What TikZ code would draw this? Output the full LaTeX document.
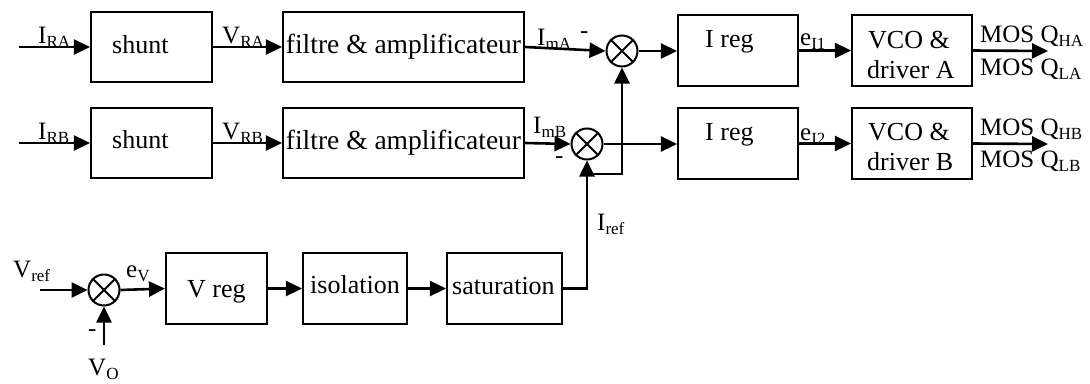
\documentclass[tikz,border=0pt]{standalone}
\usepackage{fontspec}
\setmainfont{Liberation Serif}
\usetikzlibrary{arrows.meta}
\newcommand\sbs[1]{\raisebox{-4.5pt}{\fontsize{17}{17}\selectfont #1}}
\begin{document}
\begin{tikzpicture}[x=1pt,y=-1pt,
  box/.style={draw,line width=2.1pt,inner sep=0pt},
  sum/.style={draw,circle,line width=2pt,minimum size=31pt,inner sep=0pt},
  conn/.style={line width=2.6pt,-{Triangle[length=16pt,width=15pt]}},
  lab/.style={anchor=base west,inner sep=0pt,font=\fontsize{25}{25}\selectfont},
  btext/.style={anchor=base west,inner sep=0pt,font=\fontsize{26}{30}\selectfont}]
\useasboundingbox (0,0) rectangle (1090,383);
% boxes
\node[box,minimum width=121pt,minimum height=70pt] (shA) at (151.5,47) {};
\node[box,minimum width=121pt,minimum height=70pt] (shB) at (151.5,143) {};
\node[box,minimum width=241pt,minimum height=70pt,font=\fontsize{27.5}{30}\selectfont] (fiA) at (403.5,47) {filtre \& amplificateur};
\node[box,minimum width=241pt,minimum height=70pt,font=\fontsize{27.5}{30}\selectfont] (fiB) at (403.5,143) {filtre \& amplificateur};
\node[box,minimum width=120pt,minimum height=71pt] (irA) at (738,50.5) {};
\node[box,minimum width=120pt,minimum height=71pt] (irB) at (738,143.5) {};
\node[box,minimum width=120pt,minimum height=71pt] (vcA) at (912,50.5) {};
\node[box,minimum width=120pt,minimum height=71pt] (vcB) at (912,143.5) {};
\node[box,minimum width=101pt,minimum height=71pt] (vr) at (216.5,288.5) {};
\node[box,minimum width=104pt,minimum height=71pt] (iso) at (355,288.5) {};
\node[box,minimum width=115pt,minimum height=71pt] (sat) at (504.5,288.5) {};
% box texts
\node[btext] (tshA) at (112,53) {shunt};
\node[btext] (tshB) at (112,148) {shunt};
\node[btext] (tirA) at (705,47) {I reg};
\node[btext] (tirB) at (705,140) {I reg};
\node[btext] (tvcA1) at (868,48) {VCO \&};
\node[btext] (tvcA2) at (867,78) {driver A};
\node[btext] (tvcB1) at (868,140) {VCO \&};
\node[btext] (tvcB2) at (867,170) {driver B};
\node[btext] (tvr) at (187,297) {V reg};
\node[btext] (tiso) at (310,293) {isolation};
\node[btext] (tsat) at (452,294) {saturation};
% summing junctions
\node[sum] (sA) at (622,51) {};
\node[sum] (sB) at (587,144) {};
\node[sum] (sV) at (104,290) {};
\foreach \s in {sA,sB,sV}{
  \draw[line width=1.8pt] (\s.45) -- (\s.225) (\s.135) -- (\s.315);}
% free ends
\coordinate (inA) at (19,47);
\coordinate (inB) at (19,143);
\coordinate (outA) at (1048,51);
\coordinate (outB) at (1048,144);
\coordinate (vin) at (40,290);
\coordinate (vo) at (104,345);
\coordinate (jn) at (587,174);
% connectors
\draw[conn] (inA) -- (shA.west);
\draw[conn] (shA.east) -- (fiA.west);
\draw[conn] (fiA.east) -- (sA.west);
\draw[conn] (sA.east) -- (sA.east -| irA.west);
\draw[conn] (irA.east) -- (vcA.west);
\draw[conn] (vcA.east) -- (outA);
\draw[conn] (inB) -- (shB.west);
\draw[conn] (shB.east) -- (fiB.west);
\draw[conn] (fiB.east) -- (sB.west);
\draw[conn] (sB.east) -- (sB.east -| irB.west);
\draw[conn] (irB.east) -- (vcB.west);
\draw[conn] (vcB.east) -- (outB);
\draw[conn] (vin) -- (sV.west);
\draw[conn] (vo) -- (sV.south);
\draw[conn] (sV.east) -- (vr.west);
\draw[conn] (vr.east) -- (iso.west);
\draw[conn] (iso.east) -- (sat.west);
\draw[conn] (sat.east) -| (sB.south);
\draw[conn] (jn) -| (sA.south);
% labels
\node[lab] (lIRA) at (38,43) {I\sbs{RA}};
\node[lab] (lVRA) at (222,43) {V\sbs{RA}};
\node[lab] (lIRB) at (38,139) {I\sbs{RB}};
\node[lab] (lVRB) at (222,139) {V\sbs{RB}};
\node[lab] (lImA) at (537,45) {I\sbs{mA}};
\node[lab] (mA) at (580,38) {-};
\node[lab] (lImB) at (533,133) {I\sbs{mB}};
\node[lab] (mB) at (555,163) {-};
\node[lab] (le1) at (800,45) {e\sbs{I1}};
\node[lab] (le2) at (800,140) {e\sbs{I2}};
\node[lab] (lQHA) at (980,42) {MOS Q\sbs{HA}};
\node[lab] (lQLA) at (980,75) {MOS Q\sbs{LA}};
\node[lab] (lQHB) at (980,135) {MOS Q\sbs{HB}};
\node[lab] (lQLB) at (980,167) {MOS Q\sbs{LB}};
\node[lab] (lIref) at (597,230) {I\sbs{ref}};
\node[lab] (lVref) at (13,277) {V\sbs{ref}};
\node[lab] (leV) at (126,277) {e\sbs{V}};
\node[lab] (mV) at (88,336) {-};
\node[lab] (lVo) at (88,375) {V\sbs{O}};
\end{tikzpicture}
\end{document}
